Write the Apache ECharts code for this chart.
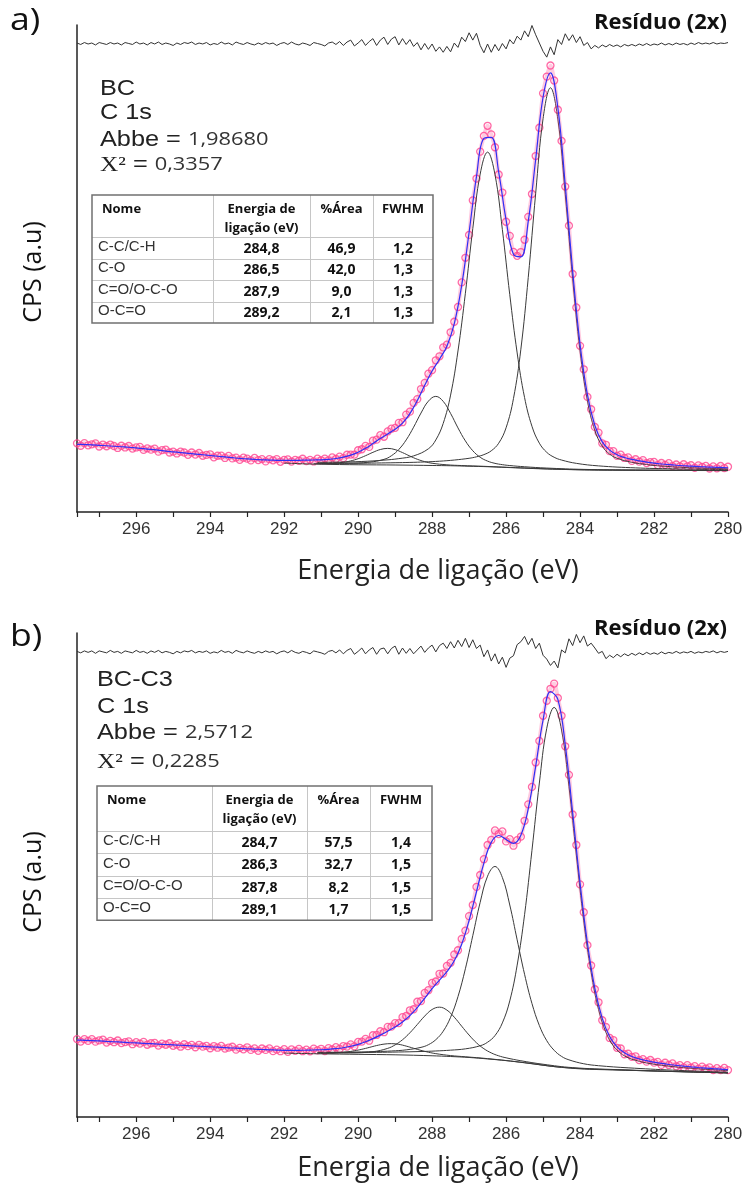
<!DOCTYPE html>
<html>
<head>
<meta charset="utf-8">
<script src="https://cdn.jsdelivr.net/npm/echarts@6/dist/echarts.min.js"></script>
<style>
  html, body { margin: 0; padding: 0; background: #fff; }
  #chart { width: 748px; height: 1190px; }
</style>
</head>
<body>
<div id="chart"></div>
<script>
// 能量轴：左 297.6 eV → 右 280 eV
const E_START = 297.6;
const STEP_EXP = 0.1;   // 实验点、残差的步长
const STEP_FIT = 0.2;   // 拟合包络的步长
const tickLabels = [296, 294, 292, 290, 288, 286, 284, 282, 280];

// ===== a) BC =====
const expA = [
  14.1, 13.6, 14.15, 13.7, 13.9, 14.1, 13.45, 13.85, 13.5, 13.85,
  13.55, 13.15, 13.6, 13.25, 13.55, 13.02, 13.25, 13.37, 12.75, 13.07,
  12.8, 13.02, 12.4, 12.7, 12.8, 12.22, 12.4, 12.02, 12.4, 12.22,
  11.75, 12.22, 11.8, 12.12, 11.55, 11.72, 11.85, 11.22, 11.55, 11.57,
  11.1, 11.52, 11.0, 11.17, 10.7, 11.15, 10.95, 10.6, 11.1, 10.66,
  10.87, 10.39, 10.86, 10.59, 10.87, 10.31, 10.7, 10.8, 10.35, 10.71,
  10.52, 10.93, 10.45, 10.71, 10.38, 10.95, 10.62, 10.97, 10.62, 11.2,
  10.89, 11.37, 11.06, 11.76, 11.77, 11.77, 12.68, 12.88, 13.58, 13.36,
  14.65, 14.86, 15.77, 15.45, 16.54, 17.1, 17.28, 18.3, 18.44, 20.0,
  20.6, 22.4, 23.18, 25.25, 26.51, 28.4, 29.14, 31.15, 31.97, 33.8,
  34.35, 36.9, 39.07, 42.1, 47.15, 52.2, 56.9, 64.0, 68.47, 74.0,
  77.22, 79.3, 77.54, 74.9, 69.3, 65.6, 59.6, 56.7, 53.41, 52.6,
  53.38, 55.9, 60.61, 65.3, 73.09, 78.9, 85.97, 89.4, 91.68, 88.6,
  82.6, 76.2, 66.82, 58.8, 48.87, 42.0, 34.12, 29.3, 23.63, 21.1,
  17.47, 16.3, 14.11, 13.8, 12.5, 12.5, 11.52, 11.77, 11.1, 11.23,
  10.49, 10.83, 10.34, 10.66, 10.04, 10.23, 10.28, 9.64, 10.06, 9.69,
  10.02, 9.41, 9.75, 9.35, 9.8, 9.35, 9.6, 9.06, 9.58, 9.25,
  9.46, 8.93, 9.35, 8.97, 9.45, 9.02, 9.29
];
const fitA = [
  13.9, 13.85, 13.8, 13.7, 13.6, 13.5, 13.4, 13.3, 13.15, 13.0,
  12.85, 12.7, 12.5, 12.35, 12.2, 12.05, 11.9, 11.75, 11.6, 11.45,
  11.3, 11.15, 11.0, 10.9, 10.8, 10.72, 10.66, 10.62, 10.6, 10.6,
  10.62, 10.65, 10.68, 10.72, 10.82, 10.99, 11.26, 11.67, 12.28, 13.08,
  14.05, 15.07, 16.04, 16.98, 18.24, 20.2, 22.88, 26.01, 28.94, 31.37,
  34.05, 38.67, 46.55, 57.4, 68.87, 76.72, 76.94, 69.8, 60.0, 52.91,
  52.38, 59.71, 72.39, 85.17, 90.18, 83.0, 67.12, 49.47, 34.42, 24.03,
  17.77, 14.41, 12.7, 11.77, 11.2, 10.79, 10.49, 10.24, 10.03, 9.86,
  9.72, 9.6, 9.5, 9.4, 9.33, 9.26, 9.2, 9.15, 9.09
];
const residA = [
  96.3, 96.0, 96.4, 96.1, 96.3, 95.9, 96.4, 96.2, 96.0, 96.4,
  96.1, 96.3, 95.9, 96.4, 96.2, 96.0, 96.5, 96.1, 96.3, 95.9,
  96.4, 96.1, 96.5, 96.0, 96.3, 96.1, 95.8, 96.3, 96.0, 96.4,
  96.2, 96.5, 96.0, 96.3, 96.1, 96.4, 95.9, 96.2, 96.0, 96.5,
  96.1, 96.3, 95.9, 96.5, 96.2, 96.0, 96.4, 96.1, 95.9, 96.3,
  96.0, 96.4, 96.1, 96.3, 95.8, 96.2, 96.4, 96.0, 96.5, 96.1,
  95.9, 96.3, 96.1, 95.8, 96.4, 96.2, 96.0, 95.7, 96.3, 96.5,
  96.0, 96.6, 95.8, 96.5, 96.9, 95.7, 96.3, 97.0, 95.8, 96.6,
  97.2, 95.8, 96.9, 97.5, 96.0, 97.1, 97.6, 95.9, 97.2, 96.0,
  97.0, 95.6, 96.4, 94.9, 96.2, 95.0, 96.1, 94.6, 95.5, 94.4,
  95.6, 94.5, 96.3, 95.4, 97.5, 96.6, 98.4, 96.9, 98.3, 95.8,
  94.3, 96.1, 94.4, 96.0, 94.7, 96.2, 95.1, 97.0, 96.1, 97.7,
  96.9, 98.8, 97.6, 99.9, 98.0, 96.3, 94.6, 93.4, 95.5, 93.9,
  97.0, 96.0, 98.2, 96.8, 98.0, 96.4, 97.6, 95.8, 96.4, 95.1,
  95.8, 95.3, 95.9, 95.5, 96.0, 95.6, 95.9, 95.5, 96.0, 95.7,
  96.0, 95.7, 96.1, 95.8, 96.2, 95.8, 96.1, 95.9, 96.3, 95.9,
  96.2, 95.9, 96.3, 96.0, 96.2, 95.9, 96.3, 96.0, 96.4, 96.1,
  96.3, 96.1, 96.4, 96.1, 96.3, 96.2, 96.4
];
// 各拟合峰（含背景），[结合能, CPS]
const bgA = [[292.0,10.05],[291.5,9.9],[291.0,9.8],[290.0,9.7],[289.0,9.65],[288.0,9.55],[287.5,9.5],[287.0,9.4],[286.5,9.3],[286.0,9.15],[285.5,9.0],[285.0,8.85],[284.5,8.75],[284.0,8.65],[283.5,8.6],[283.0,8.58],[282.0,8.55],[281.0,8.52],[280.0,8.5]];
const ccA = [[291.0,10.02],[290.5,10.01],[290.0,10.01],[289.5,10.06],[289.0,10.12],[288.6,10.18],[288.2,10.28],[287.8,10.43],[287.4,10.67],[287.0,11.03],[286.8,11.33],[286.6,11.78],[286.4,12.57],[286.2,14.12],[286.0,17.29],[285.8,23.29],[285.6,33.43],[285.4,48.17],[285.2,65.41],[285.0,80.75],[284.8,87.11],[284.6,80.67],[284.4,65.23],[284.2,47.89],[284.0,33.05],[283.8,22.83],[283.6,16.75],[283.4,13.51],[283.2,11.89],[283.0,11.04],[282.6,10.2],[282.2,9.75],[281.8,9.44],[281.2,9.16],[280.6,8.98],[280.0,8.86]];
const coA = [[291.1,10.19],[290.5,10.25],[289.9,10.37],[289.3,10.65],[288.9,10.96],[288.5,11.52],[288.1,12.98],[287.9,14.79],[287.7,18.18],[287.5,24.0],[287.3,33.06],[287.1,44.92],[286.9,58.18],[286.7,69.39],[286.5,73.9],[286.3,69.29],[286.1,57.98],[285.9,44.62],[285.7,32.66],[285.5,23.5],[285.3,17.6],[285.1,14.13],[284.9,12.25],[284.7,11.24],[284.5,10.67],[284.1,9.99],[283.5,9.47],[282.5,9.06],[281.5,8.86],[280.5,8.74],[280.0,8.7]];
const cdoA = [[291.1,9.98],[290.3,10.02],[289.7,10.23],[289.3,10.81],[289.1,11.55],[288.9,12.84],[288.7,14.8],[288.5,17.41],[288.3,20.32],[288.1,22.76],[287.9,23.74],[287.7,22.72],[287.5,20.24],[287.3,17.27],[287.1,14.6],[286.9,12.58],[286.7,11.24],[286.5,10.45],[286.3,9.99],[286.1,9.72],[285.9,9.54],[285.5,9.29],[284.9,9.02],[283.9,8.75],[282.5,8.62],[281.0,8.56],[280.0,8.53]];
const ocoA = [[291.2,9.93],[290.8,9.96],[290.4,10.2],[290.2,10.49],[290.0,10.94],[289.8,11.56],[289.6,12.25],[289.4,12.83],[289.2,13.06],[289.0,12.81],[288.8,12.2],[288.6,11.48],[288.4,10.83],[288.2,10.34],[288.0,10.01],[287.6,9.69],[287.2,9.54],[286.6,9.38],[285.6,9.07],[284.2,8.72],[282.0,8.57],[280.0,8.51]];
const infoA = ['BC', 'C 1s', '1,98680', '0,3357'];
const tableA = [
  ['C-C/C-H', '284,8', '46,9', '1,2'],
  ['C-O', '286,5', '42,0', '1,3'],
  ['C=O/O-C-O', '287,9', '9,0', '1,3'],
  ['O-C=O', '289,2', '2,1', '1,3']
];

// ===== b) BC-C3 =====
const expB = [
  16.1, 15.58, 16.1, 15.72, 16.1, 15.56, 15.82, 15.98, 15.38, 15.74,
  15.45, 15.81, 15.27, 15.47, 15.63, 15.04, 15.45, 15.16, 15.52, 14.93,
  15.24, 15.3, 14.76, 15.17, 14.93, 15.24, 14.7, 14.96, 14.52, 15.03,
  14.64, 14.9, 14.41, 14.92, 14.53, 14.69, 14.2, 14.66, 14.32, 14.68,
  14.14, 14.35, 14.51, 13.92, 14.28, 13.99, 14.4, 13.86, 14.17, 13.68,
  14.15, 13.86, 14.18, 13.6, 13.92, 13.59, 14.02, 13.46, 13.96, 13.67,
  14.08, 13.59, 13.9, 13.57, 14.14, 13.76, 14.09, 13.63, 14.23, 13.95,
  14.42, 14.06, 14.66, 14.56, 15.01, 14.6, 15.51, 15.57, 16.15, 15.76,
  16.89, 16.95, 17.72, 17.52, 18.63, 18.66, 19.4, 19.4, 20.63, 20.87,
  22.05, 22.26, 23.81, 23.95, 25.63, 26.2, 27.7, 28.0, 29.59, 29.65,
  31.22, 31.85, 33.57, 34.45, 36.79, 38.5, 41.5, 43.8, 47.54, 50.0,
  53.26, 56.2, 57.24, 59.2, 58.46, 59.0, 56.94, 57.4, 56.05, 57.2,
  57.92, 61.2, 64.6, 68.2, 73.25, 77.7, 82.9, 86.0, 88.47, 89.55,
  86.57, 82.9, 76.59, 70.7, 62.5, 56.2, 48.06, 42.3, 35.5, 31.3,
  26.39, 23.7, 19.99, 18.6, 16.33, 15.9, 14.3, 14.15, 12.97, 13.07,
  12.41, 12.54, 11.75, 11.95, 11.43, 11.78, 11.23, 11.4, 10.77, 11.21,
  10.75, 11.06, 10.48, 10.7, 10.26, 10.73, 10.21, 10.5, 9.93, 10.42,
  10.01, 10.25, 9.69, 10.09, 9.69, 10.14, 9.69
];
const fitB = [
  15.9, 15.85, 15.8, 15.72, 15.63, 15.55, 15.47, 15.38, 15.3, 15.22,
  15.14, 15.06, 14.98, 14.9, 14.82, 14.74, 14.66, 14.58, 14.5, 14.42,
  14.34, 14.26, 14.18, 14.1, 14.02, 13.95, 13.88, 13.82, 13.77, 13.76,
  13.78, 13.8, 13.84, 13.89, 13.98, 14.12, 14.31, 14.61, 15.01, 15.55,
  16.19, 16.92, 17.73, 18.6, 19.63, 20.95, 22.61, 24.53, 26.5, 28.29,
  30.02, 32.27, 35.69, 40.6, 46.54, 52.46, 56.74, 58.16, 57.34, 56.55,
  58.22, 63.7, 72.45, 82.0, 87.87, 86.27, 76.89, 62.9, 48.36, 35.9,
  26.59, 20.39, 16.63, 14.5, 13.27, 12.51, 12.0, 11.63, 11.33, 11.07,
  10.85, 10.68, 10.51, 10.36, 10.23, 10.11, 9.99, 9.89, 9.79
];
const residB = [
  96.2, 95.9, 96.3, 96.0, 96.3, 95.8, 96.3, 96.1, 95.9, 96.4,
  96.0, 96.2, 95.8, 96.3, 96.1, 95.9, 96.4, 96.0, 96.2, 95.8,
  96.3, 96.0, 96.4, 95.9, 96.2, 96.0, 95.7, 96.2, 95.9, 96.3,
  96.1, 96.4, 95.9, 96.2, 96.0, 96.3, 95.8, 96.1, 95.9, 96.4,
  96.0, 96.2, 95.8, 96.4, 96.1, 95.9, 96.3, 96.0, 95.8, 96.2,
  95.9, 96.3, 96.0, 96.2, 95.7, 96.1, 96.3, 95.9, 96.4, 96.0,
  95.8, 96.2, 96.0, 95.7, 96.3, 96.1, 95.9, 95.6, 96.2, 96.4,
  95.9, 96.5, 95.7, 96.4, 96.8, 95.6, 96.2, 96.9, 95.7, 96.5,
  97.0, 95.6, 96.7, 96.9, 95.7, 96.8, 97.3, 95.6, 96.9, 95.8,
  96.8, 95.7, 96.5, 97.3, 96.0, 96.9, 97.5, 96.1, 97.4, 97.9,
  96.8, 98.2, 96.9, 98.5, 97.2, 98.9, 97.0, 98.6, 96.8, 97.5,
  95.1, 96.5, 94.2, 95.7, 93.6, 95.0, 92.9, 94.8, 95.3, 97.6,
  98.2, 99.3, 97.6, 98.9, 96.8, 97.9, 95.4, 94.6, 93.3, 94.2,
  92.8, 96.5, 95.9, 98.8, 97.4, 99.7, 98.0, 99.4, 97.3, 97.9,
  96.9, 95.8, 96.2, 94.7, 95.4, 94.9, 95.6, 95.1, 95.7, 95.3,
  95.8, 95.4, 95.9, 95.5, 96.0, 95.6, 95.9, 95.6, 96.1, 95.7,
  96.0, 95.8, 96.2, 95.8, 96.1, 95.9, 96.2, 95.8, 96.1, 95.9,
  96.2, 96.0, 96.3, 95.9, 96.2, 96.0, 96.2
];
const bgB = [[292.0,13.2],[291.0,13.05],[290.0,12.95],[289.0,12.85],[288.0,12.65],[287.5,12.5],[287.0,12.3],[286.5,12.0],[286.0,11.65],[285.5,11.2],[285.0,10.7],[284.5,10.25],[284.0,9.95],[283.5,9.8],[283.0,9.72],[282.0,9.5],[281.0,9.3],[280.0,9.1]];
const ccB = [[291.1,13.34],[290.3,13.34],[289.5,13.36],[288.9,13.43],[288.3,13.53],[287.9,13.64],[287.5,13.81],[287.1,14.08],[286.7,14.72],[286.5,15.45],[286.3,16.82],[286.1,19.44],[285.9,23.99],[285.7,31.38],[285.5,41.8],[285.3,55.1],[285.1,69.0],[284.9,80.31],[284.7,84.63],[284.5,79.95],[284.3,68.33],[284.1,54.11],[283.9,40.52],[283.7,29.86],[283.5,22.23],[283.3,17.49],[283.1,14.69],[282.9,13.15],[282.7,12.26],[282.5,11.72],[282.1,11.03],[281.5,10.42],[280.9,10.01],[280.3,9.71],[280.0,9.6]];
const coB = [[291.1,13.35],[290.3,13.39],[289.5,13.52],[289.1,13.64],[288.7,13.87],[288.3,14.39],[288.1,14.94],[287.9,15.97],[287.7,17.72],[287.5,20.6],[287.3,24.87],[287.1,30.63],[286.9,37.46],[286.7,44.36],[286.5,49.76],[286.3,51.76],[286.1,49.48],[285.9,43.8],[285.7,36.6],[285.5,29.49],[285.3,23.45],[285.1,18.9],[284.9,15.77],[284.7,13.78],[284.5,12.52],[284.3,11.81],[283.9,11.0],[283.5,10.6],[282.7,10.16],[281.5,9.68],[280.3,9.34],[280.0,9.27]];
const cdoB = [[291.0,13.21],[290.2,13.24],[289.6,13.49],[289.2,14.18],[289.0,14.9],[288.8,15.96],[288.6,17.4],[288.4,19.11],[288.2,20.85],[288.0,22.21],[287.8,22.69],[287.6,22.09],[287.4,20.62],[287.2,18.76],[287.0,16.93],[286.8,15.33],[286.6,14.11],[286.4,13.24],[286.2,12.64],[286.0,12.23],[285.6,11.62],[285.0,10.9],[284.2,10.2],[283.0,9.79],[281.5,9.44],[280.0,9.13]];
const ocoB = [[291.1,13.17],[290.7,13.21],[290.3,13.45],[290.1,13.68],[289.9,13.99],[289.7,14.37],[289.5,14.76],[289.3,15.06],[289.1,15.16],[288.9,15.01],[288.7,14.65],[288.5,14.2],[288.3,13.76],[288.1,13.39],[287.9,13.09],[287.5,12.69],[287.1,12.44],[286.5,12.06],[285.5,11.23],[284.5,10.27],[283.0,9.73],[280.0,9.11]];
const infoB = ['BC-C3', 'C 1s', '2,5712', '0,2285'];
const tableB = [
  ['C-C/C-H', '284,7', '57,5', '1,4'],
  ['C-O', '286,3', '32,7', '1,5'],
  ['C=O/O-C-O', '287,8', '8,2', '1,5'],
  ['O-C=O', '289,1', '1,7', '1,5']
];
const tableHeader = ['Nome', 'Energia de\nligação (eV)', '%Área', 'FWHM'];

// 按通道步长把数组转换为 [能量, 强度]
function withEnergy(values, step) {
  return values.map((v, i) => [+(E_START - i * step).toFixed(1), v]);
}

const PINK = '#ff4590';
const BLUE = '#2f2ff5';
const GRAY = '#3a3a3a';

function panelSeries(idx, exp, fit, resid, bg, peaks) {
  const base = { xAxisIndex: idx, yAxisIndex: idx, silent: true, animation: false };
  const expData = withEnergy(exp, STEP_EXP);
  const list = [];
  list.push(Object.assign({}, base, {
    type: 'line', data: withEnergy(resid, STEP_EXP), showSymbol: false,
    lineStyle: { color: '#333', width: 1 }
  }));
  list.push(Object.assign({}, base, {
    type: 'line', data: bg, showSymbol: false, smooth: 0.3,
    lineStyle: { color: GRAY, width: 1 }
  }));
  peaks.forEach(p => {
    list.push(Object.assign({}, base, {
      type: 'line', data: p, showSymbol: false, smooth: 0.4,
      lineStyle: { color: GRAY, width: 1 }
    }));
  });
  // 实验点：淡粉色衬底 + 空心圆
  list.push(Object.assign({}, base, {
    type: 'line', data: expData, showSymbol: false, smooth: 0.3,
    lineStyle: { color: PINK, width: 4, opacity: 0.28 }
  }));
  list.push(Object.assign({}, base, {
    type: 'scatter', data: expData, symbol: 'circle', symbolSize: 7,
    itemStyle: { color: 'rgba(255,255,255,0)', borderColor: PINK, borderWidth: 1.3 }
  }));
  list.push(Object.assign({}, base, {
    type: 'line', data: withEnergy(fit, STEP_FIT), showSymbol: false, smooth: 0.4,
    lineStyle: { color: BLUE, width: 1.2 }
  }));
  return list;
}

function xAxisCfg(idx) {
  return {
    type: 'value', gridIndex: idx, min: 280, max: 297.6, interval: 1, inverse: true,
    axisLine: { show: true, onZero: false, lineStyle: { color: '#222', width: 1.5 } },
    axisTick: { show: true, inside: false, length: 5, lineStyle: { color: '#222', width: 1.2 } },
    axisLabel: {
      formatter: v => (tickLabels.includes(Math.round(v * 10) / 10) ? String(v) : ''),
      fontFamily: 'Liberation Sans', fontSize: 17, color: '#333', margin: 9
    },
    splitLine: { show: false }
  };
}

function yAxisCfg(idx) {
  return {
    type: 'value', gridIndex: idx, min: 0, max: 100,
    axisLine: { show: true, onZero: false, lineStyle: { color: '#222', width: 1.5 } },
    axisTick: { show: false }, axisLabel: { show: false }, splitLine: { show: false }
  };
}

// 文字注释（原图文字横向略宽）
function infoGraphic(left, ys, info) {
  const rich = {
    a: { fontFamily: 'Liberation Sans', fontSize: 22, fill: '#222' },
    n: { fontFamily: 'Open Sans', fontSize: 19, fill: '#333' },
    x: { fontFamily: 'Liberation Serif', fontSize: 22, fill: '#222' }
  };
  const lines = [
    '{a|' + info[0] + '}',
    '{a|' + info[1] + '}',
    '{a|Abbe = }{n|' + info[2] + '}',
    '{x|Χ²}{a| = }{n|' + info[3] + '}'
  ];
  return lines.map((t, i) => ({
    type: 'text', x: left, y: ys[i], scaleX: 1.15, silent: true,
    style: { text: t, rich: rich, verticalAlign: 'middle', align: 'left' }
  }));
}

// 参数表格
function tableGraphic(cols, top, headH, rowH, rows) {
  const els = [];
  const left = cols[0], right = cols[cols.length - 1];
  const bottom = top + headH + rowH * rows.length;
  for (let r = 0; r < rows.length; r++) {
    const y = Math.round(top + headH + r * rowH) + 0.5;
    els.push({ type: 'line', silent: true, shape: { x1: left, y1: y, x2: right, y2: y }, style: { stroke: '#c6c6c6', lineWidth: 1 } });
  }
  for (let c = 1; c < cols.length - 1; c++) {
    els.push({ type: 'line', silent: true, shape: { x1: cols[c] + 0.5, y1: top, x2: cols[c] + 0.5, y2: bottom }, style: { stroke: '#c6c6c6', lineWidth: 1 } });
  }
  els.push({ type: 'rect', silent: true, shape: { x: left, y: top, width: right - left, height: bottom - top }, style: { fill: 'none', stroke: '#707070', lineWidth: 1.5 } });
  tableHeader.forEach((h, c) => {
    const cx = c === 0 ? cols[0] + 10 : (cols[c] + cols[c + 1]) / 2;
    els.push({
      type: 'text', x: cx, y: top + 5, silent: true,
      style: { text: h, fontFamily: 'Open Sans', fontWeight: 'bold', fontSize: 13, lineHeight: 19, fill: '#111', align: c === 0 ? 'left' : 'center', verticalAlign: 'top' }
    });
  });
  rows.forEach((row, r) => {
    const cy = top + headH + r * rowH + rowH / 2;
    row.forEach((cell, c) => {
      if (c === 0) {
        els.push({
          type: 'text', x: cols[0] + 6, y: cy - 1, silent: true,
          style: { text: cell, fontFamily: 'Liberation Sans', fontSize: 15, fill: '#333', align: 'left', verticalAlign: 'middle' }
        });
      } else {
        els.push({
          type: 'text', x: (cols[c] + cols[c + 1]) / 2, y: cy + 1, silent: true,
          style: { text: cell, fontFamily: 'Open Sans', fontWeight: 'bold', fontSize: 14, fill: '#111', align: 'center', verticalAlign: 'middle' }
        });
      }
    });
  });
  return els;
}

function label(text, x, y, size, extra) {
  return {
    type: 'text', x: x, y: y, silent: true,
    style: Object.assign({ text: text, fontFamily: 'Open Sans', fontSize: size, fill: '#111', align: 'center', verticalAlign: 'middle' }, extra || {})
  };
}

const graphics = [].concat(
  [
    Object.assign(label('a)', 10, 21, 31, { align: 'left' }), { scaleX: 1.15 }),
    Object.assign(label('b)', 10, 637, 31, { align: 'left' }), { scaleX: 1.15 }),
    label('Resíduo (2x)', 727, 23, 22, { align: 'right', fontWeight: 'bold' }),
    label('Resíduo (2x)', 727, 629, 22, { align: 'right', fontWeight: 'bold' }),
    Object.assign(label('CPS (a.u)', 0, 0, 25), { x: 34, y: 272, rotation: Math.PI / 2 }),
    Object.assign(label('CPS (a.u)', 0, 0, 25), { x: 34, y: 882, rotation: Math.PI / 2 }),
    label('Energia de ligação (eV)', 438, 571, 27, { fill: '#222' }),
    label('Energia de ligação (eV)', 438, 1168, 27, { fill: '#222' })
  ],
  infoGraphic(100, [89, 113, 140, 165], infoA),
  infoGraphic(97, [680, 707, 733, 762], infoB),
  tableGraphic([92, 213, 310, 373, 433], 195, 42, 21.5, tableA),
  tableGraphic([97, 212, 307, 370, 432], 786, 45, 22.3, tableB)
);

const chart = echarts.init(document.getElementById('chart'), null, { renderer: 'canvas' });
chart.setOption({
  animation: false,
  backgroundColor: '#fff',
  grid: [
    { left: 77, top: 25, width: 651, height: 487 },
    { left: 77, top: 633, width: 651, height: 484 }
  ],
  xAxis: [xAxisCfg(0), xAxisCfg(1)],
  yAxis: [yAxisCfg(0), yAxisCfg(1)],
  series: [].concat(
    panelSeries(0, expA, fitA, residA, bgA, [ocoA, cdoA, coA, ccA]),
    panelSeries(1, expB, fitB, residB, bgB, [ocoB, cdoB, coB, ccB])
  ),
  graphic: graphics
});
</script>
</body>
</html>
